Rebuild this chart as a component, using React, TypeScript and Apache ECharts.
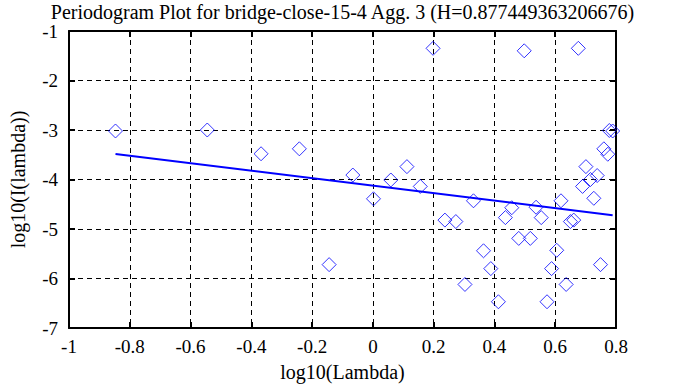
import React, { useEffect, useRef } from "react";
import * as echarts from "echarts";

const logLambda = [
  -0.847, -0.545, -0.368, -0.242, -0.144, -0.066,
  0.002, 0.059, 0.112, 0.156, 0.198,
  0.237, 0.273, 0.303, 0.331, 0.364, 0.388, 0.413, 0.436, 0.457, 0.48,
  0.498, 0.518, 0.537, 0.554, 0.573, 0.588, 0.605, 0.619, 0.636, 0.65,
  0.661, 0.676, 0.69, 0.701, 0.716, 0.727, 0.738, 0.749, 0.76, 0.773,
  0.778, 0.789,
];
const logI = [
  -3.02, -3.0, -3.48, -3.38, -5.72, -3.91,
  -4.39, -4.01, -3.74, -4.14, -1.35,
  -4.82, -4.85, -6.12, -4.43, -5.44, -5.8, -6.47, -4.77, -4.57, -5.19,
  -1.4, -5.19, -4.56, -4.77, -6.47, -5.8, -5.43, -4.43, -6.12, -4.85,
  -4.82, -1.35, -4.14, -3.74, -4.0, -4.38, -3.92, -5.72, -3.38, -3.49,
  -3.01, -3.02,
];
const H = 0.877449363206676;
const fitSlope = 1 - 2 * H;
const fitIntercept = -4.125;
const xTicks = [-1, -0.8, -0.6, -0.4, -0.2, 0, 0.2, 0.4, 0.6, 0.8];
const yTicks = [-7, -6, -5, -4, -3, -2, -1];

const FONT = "Liberation Serif";

export default function App() {
  const ref = useRef<HTMLDivElement>(null);
  useEffect(() => {
    if (!ref.current) return;
    const chart = echarts.init(ref.current, null, { renderer: "svg" });
    const points = logLambda.map((x, i) => [x, logI[i]]);
    const xMin = Math.min(...logLambda);
    const xMax = Math.max(...logLambda);
    const fitLine = [
      [xMin, fitIntercept + fitSlope * xMin],
      [xMax, fitIntercept + fitSlope * xMax],
    ];
    const axisLine = { show: true, onZero: false, lineStyle: { color: "#000", width: 2 } };
    const tick = { show: true, inside: true, length: 6, lineStyle: { color: "#000", width: 2 } };
    const split = { show: true, lineStyle: { color: "#000", width: 1, type: [5, 4] as any } };
    chart.setOption({
      animation: false,
      backgroundColor: "#fff",
      title: {
        text: `Periodogram Plot for bridge-close-15-4 Agg. 3 (H=${H})`,
        left: "center",
        top: -3,
        textStyle: { fontFamily: FONT, fontSize: 20, fontWeight: "normal", color: "#000" },
      },
      grid: { left: 68, right: 69, top: 31, bottom: 56, containLabel: false },
      xAxis: [
        {
          type: "value",
          min: xTicks[0],
          max: xTicks[xTicks.length - 1],
          interval: 0.2,
          position: "bottom",
          name: "log10(Lambda)",
          nameLocation: "middle",
          nameGap: 34,
          nameTextStyle: { fontFamily: FONT, fontSize: 20, color: "#000" },
          axisLine,
          axisTick: tick,
          splitLine: split,
          axisLabel: {
            fontFamily: FONT,
            fontSize: 19,
            color: "#000",
            margin: 9,
            formatter: (v: number) => String(Math.round(v * 10) / 10),
          },
        },
        {
          type: "value",
          min: xTicks[0],
          max: xTicks[xTicks.length - 1],
          interval: 0.2,
          position: "top",
          axisLine,
          axisTick: tick,
          splitLine: { show: false },
          axisLabel: { show: false },
        },
      ],
      yAxis: [
        {
          type: "value",
          min: yTicks[0],
          max: yTicks[yTicks.length - 1],
          interval: 1,
          position: "left",
          name: "log10(I(lambda))",
          nameLocation: "middle",
          nameGap: 41,
          nameRotate: 90,
          nameTextStyle: { fontFamily: FONT, fontSize: 20, color: "#000" },
          axisLine,
          axisTick: tick,
          splitLine: split,
          axisLabel: { fontFamily: FONT, fontSize: 19, color: "#000", margin: 11 },
        },
        {
          type: "value",
          min: yTicks[0],
          max: yTicks[yTicks.length - 1],
          interval: 1,
          position: "right",
          axisLine,
          axisTick: tick,
          splitLine: { show: false },
          axisLabel: { show: false },
        },
      ],
      series: [
        {
          type: "scatter",
          data: points,
          symbol: "diamond",
          symbolSize: 14,
          itemStyle: { color: "transparent", borderColor: "#0000ff", borderWidth: 1 },
        },
        {
          type: "line",
          data: fitLine,
          symbol: "none",
          lineStyle: { color: "#0000ff", width: 2 },
        },
      ],
    });
    return () => chart.dispose();
  }, []);
  return (
    <div
      ref={ref}
      style={{ position: "fixed", left: 0, top: 0, width: 685, height: 387 }}
    />
  );
}
